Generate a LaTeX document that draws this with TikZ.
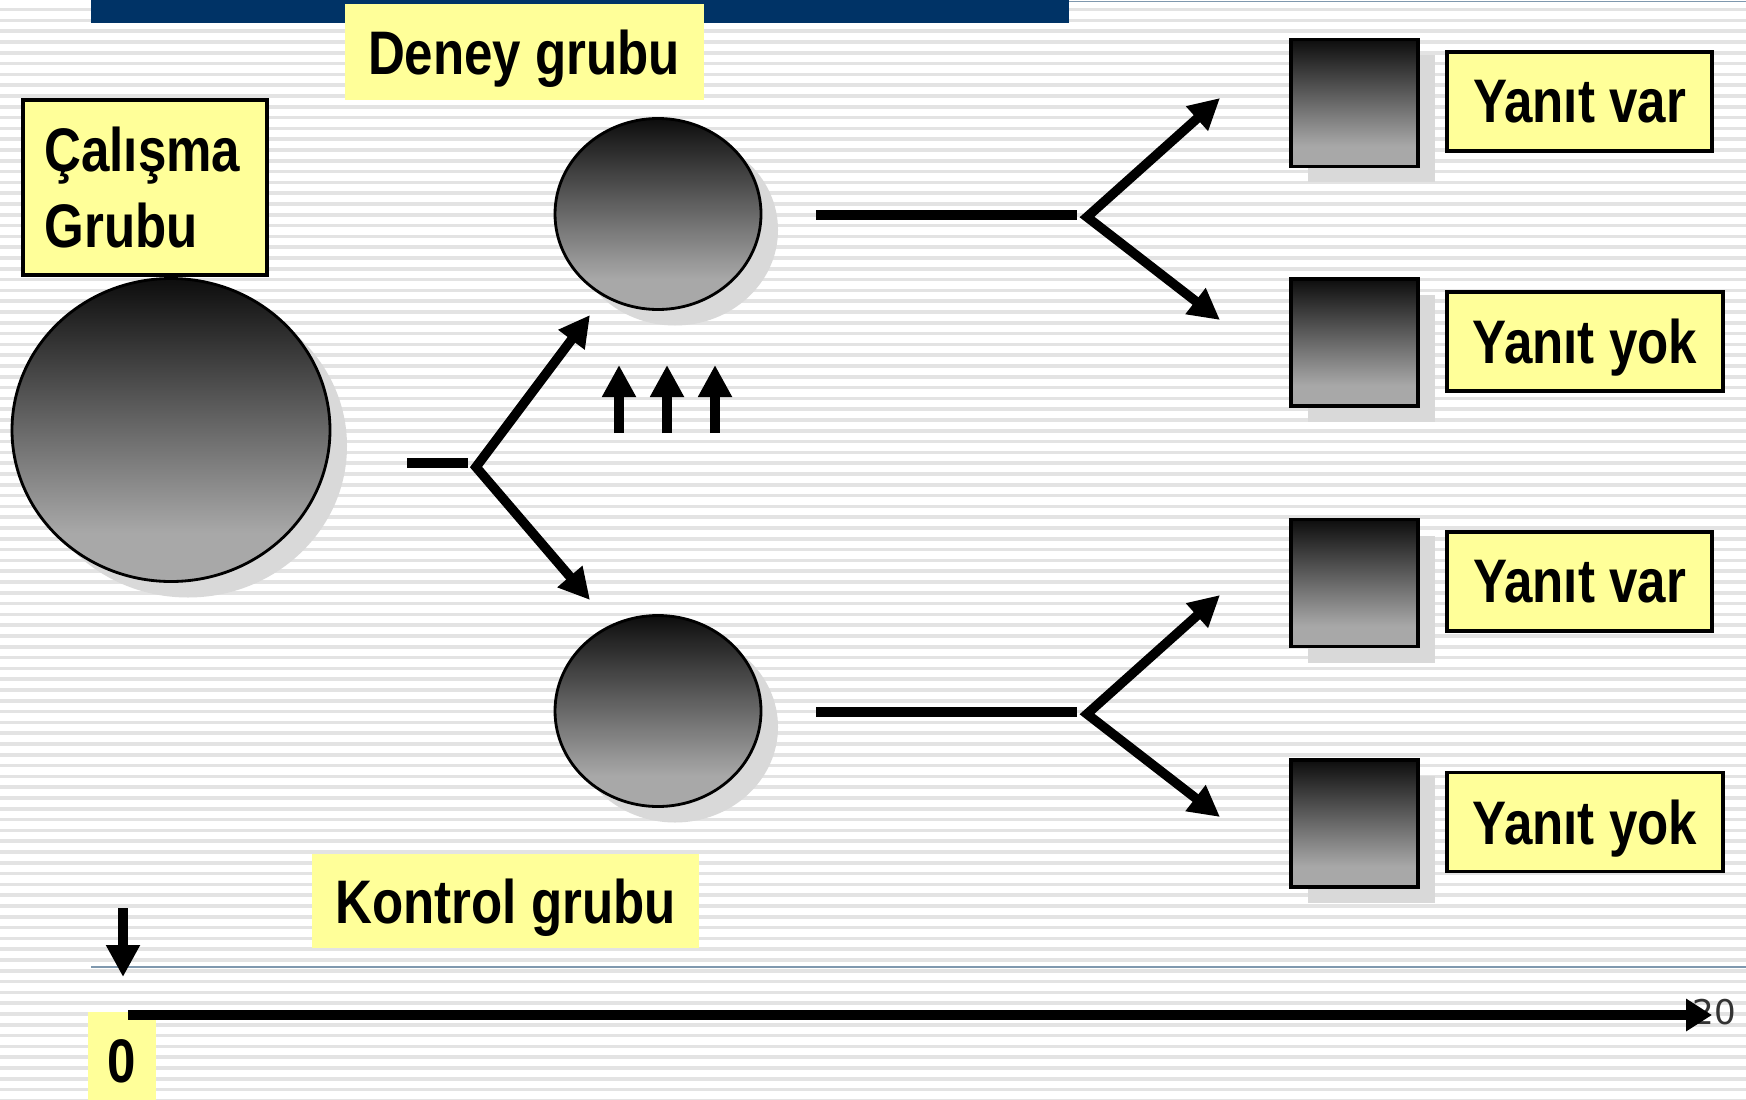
\documentclass[tikz,border=0pt]{standalone}
\usepackage{fontspec}
\newfontfamily\lblfont{Liberation Sans}[FakeStretch=0.83]
\newfontfamily\numfont{DejaVu Sans}
\usetikzlibrary{arrows.meta,shapes.geometric,shadows}

\definecolor{barblue}{HTML}{003366}
\definecolor{rulegray}{HTML}{7F98AE}
\definecolor{stripegray}{HTML}{E3E3E3}
\definecolor{labelyellow}{HTML}{FFFF99}
\definecolor{shadegray}{HTML}{A8A8A8}
\definecolor{shadowgray}{HTML}{D9D9D9}
\definecolor{darkshade}{HTML}{0D0D0D}

\pgfdeclareverticalshading{greyball}{100bp}{color(0bp)=(shadegray); color(33bp)=(shadegray); color(75bp)=(darkshade); color(100bp)=(darkshade)}

\tikzset{
  stripe/.style={draw=stripegray, line width=0.35mm},
  labelbox/.style={fill=labelyellow, inner sep=0pt, text depth=0pt,
    font=\lblfont\bfseries\fontsize{17.5}{21.5}\selectfont},
  framedbox/.style={labelbox, draw=black, line width=0.9pt},
  flatshadow/.style={drop shadow={shadow xshift=1.7mm, shadow yshift=-1.6mm, fill=shadowgray, opacity=1}},
  ball/.style={ellipse, draw=black, line width=0.8pt, inner sep=0pt, shading=greyball, flatshadow},
  cube/.style={rectangle, draw=black, line width=1pt, inner sep=0pt,
    minimum width=12.7mm, minimum height=12.7mm, shading=greyball, flatshadow},
  link/.style={line width=0.95mm},
  fork/.style={line width=0.95mm, {Triangle[length=3.1mm,width=3.1mm]}-{Triangle[length=3.1mm,width=3.1mm]}},
  bigarrow/.style={line width=1.05mm, -{Triangle[length=3.2mm,width=3.2mm]}},
  axisarrow/.style={line width=1.05mm, -{Triangle[length=2.6mm,width=3.1mm]}}
}

\begin{document}
\begin{tikzpicture}[x=0.1mm, y=-0.1mm]
% backdrop
\fill[white] (0,0) rectangle (1746,1099);
\useasboundingbox (0,0) rectangle (1746,1099);
\foreach \k in {0,...,101}
  \draw[stripe] (0,9.6+10.8*\k) -- (1746,9.6+10.8*\k);
\fill[barblue] (91,0) rectangle (1069,23);
\draw[rulegray, line width=0.15mm] (1069,1.5) -- (1746,1.5);
\draw[rulegray, line width=0.15mm] (91,967) -- (1746,967);

% groups
\node[framedbox, text depth={}, minimum width=24.4mm, minimum height=17.5mm, align=left, text width=20.1mm] (calismalbl) at (145,187.5) {\mbox{Çalışma}\\\mbox{Grubu}};
\node[ball, minimum width=31.8mm, minimum height=30.3mm] (calisma) at (171,430) {};
\node[labelbox, minimum width=35.9mm, minimum height=9.6mm] (deneylbl) at (524,52) {Deney grubu};
\node[ball, minimum width=20.6mm, minimum height=19.1mm] (deney) at (658,214) {};
\node[ball, minimum width=20.6mm, minimum height=19.1mm] (kontrol) at (658,711) {};
\node[labelbox, minimum width=38.7mm, minimum height=9.4mm] (kontrollbl) at (505.5,901) {Kontrol grubu};

% split into two groups
\coordinate (splitin) at (407,463);
\coordinate (splitend) at (468,463);
\coordinate (split) at (476,467);
\coordinate (tipdeney) at (590,315);
\coordinate (tipkontrol) at (590,600);
\draw[link] (splitin) -- (splitend);
\draw[fork] (tipdeney) -- (split) -- (tipkontrol);

% intervention
\foreach \x [count=\i] in {619,667,715} {
  \coordinate (upfoot\i) at (\x,433);
  \coordinate (uphead\i) at (\x,365);
  \draw[bigarrow] (upfoot\i) -- (uphead\i);
}

% outcomes
\foreach \g/\dy in {d/0,k/497} {
  \coordinate (\g line) at (816,215+\dy);
  \coordinate (\g lineend) at (1077,215+\dy);
  \coordinate (\g split) at (1087,217+\dy);
  \coordinate (\g var) at (1220,98+\dy);
  \coordinate (\g yok) at (1220,320+\dy);
  \draw[link] (\g line) -- (\g lineend);
  \draw[fork] (\g var) -- (\g split) -- (\g yok);
}

\node[cube] (sq1) at (1354.5,103) {};
\node[cube] (sq2) at (1354.5,342.5) {};
\node[cube] (sq3) at (1354.5,583) {};
\node[cube] (sq4) at (1354.5,823.5) {};
\node[framedbox, minimum width=26.5mm, minimum height=9.9mm] (var1) at (1579.5,101.5) {Yanıt var};
\node[framedbox, minimum width=27.6mm, minimum height=9.9mm] (yok1) at (1585,341.5) {Yanıt yok};
\node[framedbox, minimum width=26.5mm, minimum height=9.9mm] (var2) at (1579.5,581.5) {Yanıt var};
\node[framedbox, minimum width=27.6mm, minimum height=9.9mm] (yok2) at (1585,822) {Yanıt yok};

% time axis
\coordinate (marktop) at (123,908);
\coordinate (markbot) at (123,977);
\draw[bigarrow] (marktop) -- (markbot);
\node[labelbox, minimum width=6.8mm, minimum height=9.8mm] (zero) at (122,1061) {0};
\node[font=\numfont\fontsize{9.7}{11}\selectfont, text=black!80, inner sep=0pt] (tick20) at (1714.5,1012) {20};
\coordinate (tstart) at (128,1015);
\coordinate (tend) at (1712,1015);
\draw[axisarrow] (tstart) -- (tend);
\end{tikzpicture}
\end{document}
